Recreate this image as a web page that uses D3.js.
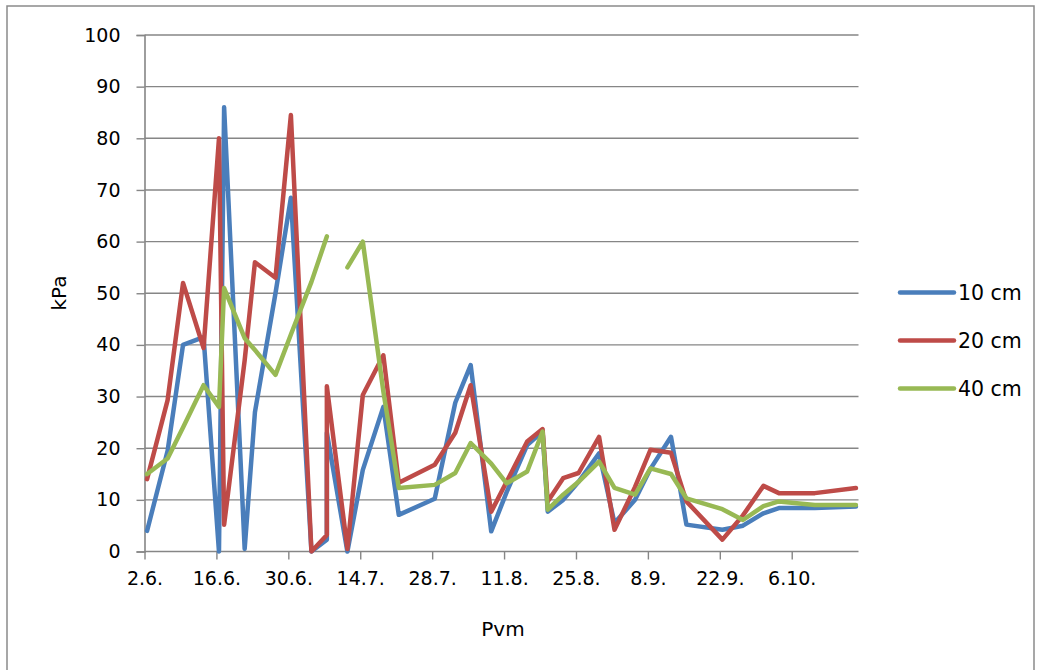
<!DOCTYPE html>
<html>
<head>
<meta charset="utf-8">
<script src="https://cdn.jsdelivr.net/npm/d3@7"></script>
<style>
  html, body { margin: 0; padding: 0; background: #ffffff; }
  svg { display: block; }
  text { font-family: "DejaVu Sans", sans-serif; fill: #000; }
</style>
</head>
<body>
<svg id="chart" width="1042" height="670"></svg>
<script>
// ---- data ----
const dates = [
  "2013-06-02","2013-06-06","2013-06-09","2013-06-13","2013-06-16","2013-06-17",
  "2013-06-21","2013-06-23","2013-06-27","2013-06-30","2013-07-04","2013-07-07",
  "2013-07-07","2013-07-11","2013-07-14","2013-07-18","2013-07-21","2013-07-28",
  "2013-08-01","2013-08-04","2013-08-08","2013-08-11","2013-08-15","2013-08-18",
  "2013-08-19","2013-08-22","2013-08-25","2013-08-29","2013-09-01","2013-09-05",
  "2013-09-08","2013-09-12","2013-09-15","2013-09-22","2013-09-26","2013-09-30",
  "2013-10-03","2013-10-10","2013-10-18"
];
const cm10 = [4, 19.5, 40, 41.5, 0, 86, 0.5, 27, 50, 68.5, 0, 2.3, 23, 0, 15.8, 28, 7.1, 10.2,
  28.8, 36.1, 3.9, 11.5, 20.6, 23.2, 7.7, 10, 13.5, 19, 5.5, 10, 16, 22.2, 5.2, 4.2, 5, 7.4, 8.4, 8.4, 8.7];
const cm20 = [14, 29.3, 52, 39.4, 80, 5.2, 37, 56, 53, 84.5, 0, 3.2, 32, 0.5, 30.3, 38, 13.3, 16.8,
  23, 32.2, 7.7, 13.5, 21.3, 23.7, 9.7, 14.2, 15.2, 22.2, 4.2, 12.5, 19.7, 19.1, 9.7, 2.3, 7, 12.7, 11.3, 11.3, 12.3];
const cm40 = [15, 18, 24, 32.2, 28, 51, 41.3, 39, 34.2, 42, 52.2, 61, null, 55, 60, 31, 12.3, 12.9,
  15.2, 21, 17, 13.2, 15.5, 23.2, 8.1, 11, 13.5, 17.4, 12.3, 11, 16.1, 15, 10.3, 8.2, 6.1, 8.8, 9.7, 9.0, 9.0];
const seriesNames = ["10 cm", "20 cm", "40 cm"];
const seriesColors = ["#4A7EBB", "#BE4B48", "#98B954"];
const tickLabels = ["2.6.", "16.6.", "30.6.", "14.7.", "28.7.", "11.8.", "25.8.", "8.9.", "22.9.", "6.10."];
const yTicks = [0, 10, 20, 30, 40, 50, 60, 70, 80, 90, 100];
const xTitle = "Pvm";
const yTitle = "kPa";

// ---- layout ----
const svg = d3.select("#chart");
const parse = d3.utcParse("%Y-%m-%d");
const xDates = dates.map(parse);
const plot = { left: 144.5, right: 858.5, top: 35, bottom: 551.5 };

// date axis: each day is a slot, points sit in the middle of their day
const axisStart = xDates[0];
const axisEnd = d3.utcDay.offset(xDates[xDates.length - 1], 1);
const x = d3.scaleUtc().domain([axisStart, axisEnd]).range([plot.left, plot.right]);
const xMid = d => x(d3.utcHour.offset(d, 12));
const y = d3.scaleLinear().domain([0, 100]).range([plot.bottom, plot.top]);

// outer chart border
svg.append("rect")
  .attr("x", 7).attr("y", 6).attr("width", 1027).attr("height", 700)
  .attr("fill", "none").attr("stroke", "#8a8a8a").attr("stroke-width", 1.5);

// gridlines
svg.append("g").selectAll("line").data(yTicks.filter(d => d > 0)).join("line")
  .attr("x1", plot.left).attr("x2", plot.right)
  .attr("y1", d => y(d)).attr("y2", d => y(d))
  .attr("stroke", "#868686").attr("stroke-width", 1.4);

// y axis
const yAxis = svg.append("g").attr("transform", `translate(${plot.left},0)`)
  .call(d3.axisLeft(y).tickValues(yTicks).tickSize(8).tickPadding(16).tickFormat(d3.format("d")));
yAxis.select(".domain").attr("stroke", "#868686").attr("stroke-width", 1.6);
yAxis.selectAll(".tick line").attr("stroke", "#868686").attr("stroke-width", 1.4);
yAxis.selectAll(".tick text").attr("font-size", 19).attr("font-family", "DejaVu Sans").attr("fill", "#000");

// x axis
const tickDates = tickLabels.map((_, i) => d3.utcDay.offset(axisStart, 14 * i));
const xAxis = svg.append("g").attr("transform", `translate(0,${plot.bottom})`)
  .call(d3.axisBottom(x).tickValues(tickDates).tickSize(8).tickPadding(12)
    .tickFormat((d, i) => tickLabels[i]));
xAxis.select(".domain").attr("stroke", "#868686").attr("stroke-width", 1.6)
  .attr("d", `M${plot.left},0H${plot.right}`);
xAxis.selectAll(".tick line").attr("stroke", "#868686").attr("stroke-width", 1.4);
xAxis.selectAll(".tick text").attr("font-size", 19).attr("font-family", "DejaVu Sans").attr("fill", "#000");

// lines
const allSeries = [cm10, cm20, cm40];
const line = d3.line()
  .defined(d => d.v !== null)
  .x(d => xMid(d.t))
  .y(d => y(d.v));
allSeries.forEach((vals, si) => {
  const pts = vals.map((v, i) => ({ t: xDates[i], v }));
  svg.append("path")
    .datum(pts)
    .attr("d", line)
    .attr("fill", "none")
    .attr("stroke", seriesColors[si])
    .attr("stroke-width", 4.5)
    .attr("stroke-linejoin", "round")
    .attr("stroke-linecap", "round");
});

// axis titles
svg.append("text").attr("x", 503).attr("y", 636).attr("text-anchor", "middle")
  .attr("font-size", 20).text(xTitle);
svg.append("text").attr("transform", "translate(66,293) rotate(-90)").attr("text-anchor", "middle")
  .attr("font-size", 20).text(yTitle);

// legend
const legend = svg.append("g");
seriesNames.forEach((name, i) => {
  const ly = 292.5 + i * 48;
  legend.append("line").attr("x1", 900).attr("x2", 954).attr("y1", ly).attr("y2", ly)
    .attr("stroke", seriesColors[i]).attr("stroke-width", 4.5).attr("stroke-linecap", "round");
  legend.append("text").attr("x", 958).attr("y", ly + 7).attr("font-size", 20.5).text(name);
});
</script>
</body>
</html>
